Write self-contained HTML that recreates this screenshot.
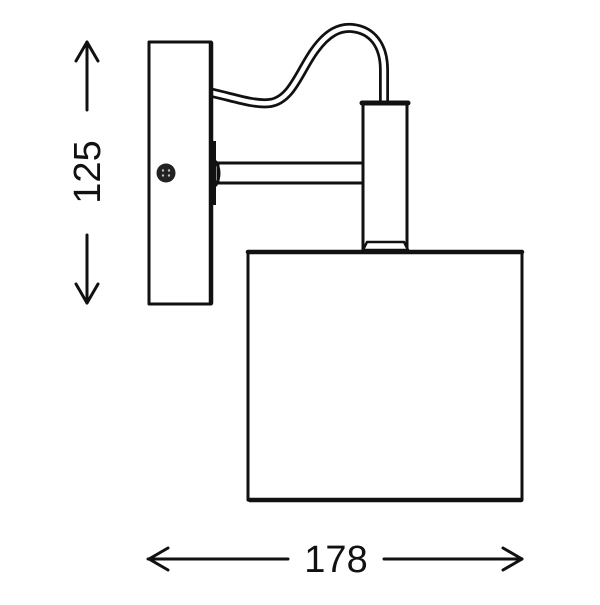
<!DOCTYPE html>
<html><head><style>html,body{margin:0;padding:0;background:#fff}</style></head>
<body>
<svg width="600" height="600" viewBox="0 0 600 600" xmlns="http://www.w3.org/2000/svg">
<g fill="none" stroke="#111" stroke-linecap="round" stroke-linejoin="round">
<!-- cable -->
<path d="M213 93 C235 98 255 105 270 103 C292 100 300 70 315 50 C328 32 340 27 352 28 C372 30 384 45 384 70 L384 102" stroke-width="10"/>
<path d="M213 93 C235 98 255 105 270 103 C292 100 300 70 315 50 C328 32 340 27 352 28 C372 30 384 45 384 70 L384 102" stroke="#fff" stroke-width="4.5"/>
<!-- backplate -->
<rect x="149" y="42" width="62" height="262" stroke-width="3" fill="#fff"/>
<line x1="211" y1="43" x2="211" y2="303" stroke-width="4.5"/>
<rect x="212" y="141" width="4" height="64" fill="#111" stroke="none"/>
<!-- arm -->
<rect x="218" y="163" width="148" height="20" stroke-width="3" fill="#fff"/>
<path d="M216 162 Q222 173 216 185" stroke-width="3"/>
<!-- socket -->
<rect x="363" y="103" width="44" height="147" stroke-width="3" fill="#fff"/>
<line x1="362" y1="103" x2="408" y2="103" stroke-width="5"/>
<path d="M367 242 L404 242 L408 250 L363 250 Z" stroke-width="2.5" fill="#fff"/>
<!-- shade -->
<rect x="248" y="252" width="274" height="248" stroke-width="3" fill="#fff"/>
<line x1="248" y1="252" x2="522" y2="252" stroke-width="4.5"/>
<line x1="250" y1="500" x2="521" y2="500" stroke-width="4.5"/>
<!-- dimension arrows -->
<g stroke-width="3">
<line x1="148" y1="559" x2="288" y2="559"/>
<path d="M168 548 L149 559 L168 570"/>
<line x1="384" y1="559" x2="522" y2="559"/>
<path d="M503 548 L522 559 L503 570"/>
<line x1="87" y1="42" x2="87" y2="110"/>
<path d="M76 61 L87 42 L98 61"/>
<line x1="87" y1="235" x2="87" y2="303"/>
<path d="M76 284 L87 303 L98 284"/>
</g>
</g>
<circle cx="166" cy="173" r="9.5" fill="#222"/>
<circle cx="163" cy="170.5" r="1.2" fill="#bbb"/><circle cx="169" cy="170.5" r="1.2" fill="#bbb"/>
<circle cx="163" cy="175.5" r="1.2" fill="#bbb"/><circle cx="169" cy="175.5" r="1.2" fill="#bbb"/>
<text x="336" y="572" font-family="Liberation Sans, sans-serif" font-size="38" text-anchor="middle" fill="#111">178</text>
<text transform="translate(100 172) rotate(-90)" font-family="Liberation Sans, sans-serif" font-size="38" text-anchor="middle" fill="#111">125</text>
</svg>
</body></html>
